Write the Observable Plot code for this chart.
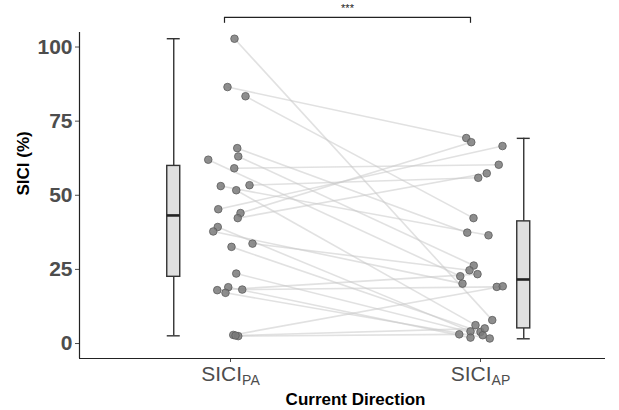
<!DOCTYPE html>
<html>
<head>
<meta charset="utf-8">
<script src="https://cdn.jsdelivr.net/npm/d3@7"></script>
<script src="https://cdn.jsdelivr.net/npm/@observablehq/plot@0.6"></script>
<style>
  html, body { margin: 0; padding: 0; background: #fff; overflow: hidden; }
  svg { display: block; }
</style>
</head>
<body>
<div id="chart"></div>
<script>
// ---- data ----
const categories = ["SICI_PA", "SICI_AP"];
const catPos = [1, 2];
const yTicks = [0, 25, 50, 75, 100];

// paired SICI (%) values, one entry per participant
const siciPA = [102.8, 86.5, 83.4, 65.9, 63.1, 62.0, 59.1, 53.4, 53.1, 51.7, 45.3, 44.0, 42.3,
                39.3, 37.8, 33.7, 32.6, 23.6, 19.0, 18.2, 18.0, 17.1, 2.9, 2.5, 2.7];
const siciAP = [7.9, 69.3, 42.3, 37.4, 26.3, 22.7, 60.3, 55.9, 36.5, 6.2, 66.6, 67.9, 57.4,
                4.1, 20.2, 24.7, 3.9, 2.8, 2.0, 19.1, 23.4, 1.7, 19.3, 3.1, 5.1];
// horizontal jitter of each point (category units)
const jitterPA = [0.016, -0.012, 0.06, 0.027, 0.031, -0.089, 0.015, 0.076, -0.039, 0.023, -0.049, 0.04, 0.029,
                  -0.051, -0.069, 0.088, 0.004, 0.023, -0.009, 0.047, -0.053, -0.02, 0.011, 0.031, 0.02];
const jitterAP = [0.047, -0.057, -0.028, -0.053, -0.027, -0.081, 0.073, -0.009, 0.032, -0.02, 0.088, -0.037, 0.025,
                  -0.04, -0.072, -0.044, 0, 0.009, -0.04, 0.065, -0.012, 0.037, 0.089, -0.085, 0.017];

// box plot summaries per category
const boxLow    = [2.6, 1.6];
const boxQ1     = [22.5, 5.1];
const boxMedian = [43.2, 21.6];
const boxQ3     = [59.9, 41.2];
const boxHigh   = [102.8, 69.2];
const boxNudge  = [-0.227, 0.173];

// significance bracket
const signif = [{from: 0.976, to: 1.96, y: 110, drop: 2, label: "***"}];

// ---- derived tables ----
const pairs = siciPA.map((v, i) => ({
  x1: catPos[0] + jitterPA[i], y1: v,
  x2: catPos[1] + jitterAP[i], y2: siciAP[i]
}));
const points = [
  ...siciPA.map((v, i) => ({x: catPos[0] + jitterPA[i], y: v})),
  ...siciAP.map((v, i) => ({x: catPos[1] + jitterAP[i], y: siciAP[i]}))
];
const halfW = 0.026;
const boxes = categories.map((c, i) => ({
  c, x: catPos[i] + boxNudge[i],
  lo: boxLow[i], q1: boxQ1[i], med: boxMedian[i], q3: boxQ3[i], hi: boxHigh[i]
}));

const xDomain = [0.396, 2.5];
const yDomain = [-5.05, 104.9];
const font = "'Liberation Sans', Arial, Helvetica, sans-serif";

const chart = Plot.plot({
  width: 619,
  height: 410,
  marginLeft: 79,
  marginRight: 14,
  marginTop: 32,
  marginBottom: 52,
  x: {type: "linear", domain: xDomain},
  y: {domain: yDomain},
  style: {fontFamily: font, background: "#fff", overflow: "visible"},
  marks: [
    // axes
    Plot.axisY({ticks: yTicks, tickSize: 4, tickPadding: 3, fontSize: 21, fontWeight: "bold",
                color: "#4d4d4d", label: null}),
    Plot.axisX({ticks: catPos, tickFormat: d => categories[d - 1], tickSize: 4, tickPadding: 4,
                fontSize: 21, color: "#4d4d4d", label: null}),
    Plot.ruleY([yDomain[0]], {stroke: "#222", strokeWidth: 1.2}),
    Plot.ruleX([xDomain[0]], {stroke: "#222", strokeWidth: 1.2}),
    // axis titles
    Plot.text(["SICI (%)"], {frameAnchor: "left", rotate: -90, dx: -56, fontSize: 17,
                             fontWeight: "bold", fill: "#000"}),
    Plot.text(["Current Direction"], {x: [1.5], frameAnchor: "bottom", lineAnchor: "middle", dy: 41,
                                      fontSize: 17, fontWeight: "bold", fill: "#000"}),
    // box plots
    Plot.ruleX(boxes, {x: "x", y1: "lo", y2: "q1", stroke: "#333", strokeWidth: 1.4}),
    Plot.ruleX(boxes, {x: "x", y1: "q3", y2: "hi", stroke: "#333", strokeWidth: 1.4}),
    Plot.ruleY(boxes, {y: "lo", x1: d => d.x - halfW, x2: d => d.x + halfW, stroke: "#333", strokeWidth: 1.4}),
    Plot.ruleY(boxes, {y: "hi", x1: d => d.x - halfW, x2: d => d.x + halfW, stroke: "#333", strokeWidth: 1.4}),
    Plot.rect(boxes, {x1: d => d.x - halfW, x2: d => d.x + halfW, y1: "q1", y2: "q3",
                      fill: "#e0e0e0", stroke: "#333", strokeWidth: 1.4}),
    Plot.ruleY(boxes, {y: "med", x1: d => d.x - halfW, x2: d => d.x + halfW, stroke: "#222", strokeWidth: 2.6}),
    // paired lines
    Plot.link(pairs, {x1: "x1", y1: "y1", x2: "x2", y2: "y2", stroke: "#c8c8c8",
                      strokeOpacity: 0.55, strokeWidth: 1.6}),
    // points
    Plot.dot(points, {x: "x", y: "y", r: 3.8, fill: "#7a7a7a", fillOpacity: 0.85,
                      stroke: "#5c5c5c", strokeWidth: 0.8}),
    // significance bracket
    Plot.link(signif, {x1: "from", x2: "to", y1: "y", y2: "y", stroke: "#222", strokeWidth: 1.2}),
    Plot.ruleX(signif, {x: "from", y1: "y", y2: d => d.y - d.drop, stroke: "#222", strokeWidth: 1.2}),
    Plot.ruleX(signif, {x: "to", y1: "y", y2: d => d.y - d.drop, stroke: "#222", strokeWidth: 1.2}),
    Plot.text(signif, {x: d => (d.from + d.to) / 2, y: "y", text: "label", dy: -5, fontSize: 11,
                       fill: "#222", lineAnchor: "bottom"})
  ]
});

// subscripts for the category labels
d3.select(chart).selectAll('g[aria-label="x-axis tick label"] text').each(function() {
  const t = this.textContent;
  const parts = t.split("_");
  if (parts.length === 2) {
    const sel = d3.select(this);
    sel.text(parts[0]);
    sel.append("tspan").attr("font-size", 14).attr("dy", 4).text(parts[1]);
  }
});

document.getElementById("chart").appendChild(chart);
</script>
</body>
</html>
